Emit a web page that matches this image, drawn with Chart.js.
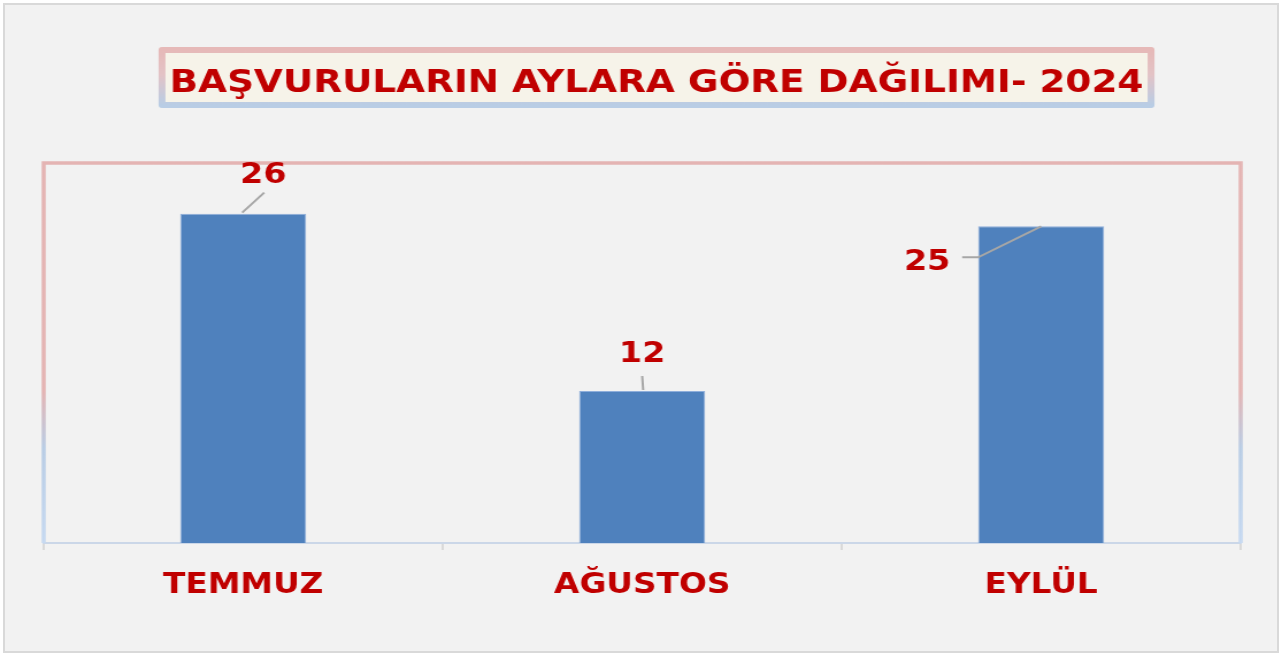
<!DOCTYPE html>
<html>
<head>
<meta charset="utf-8">
<script src="https://cdn.jsdelivr.net/npm/chart.js@4"></script>
<style>
    html, body { margin: 0; padding: 0; background: #fff; width: 1282px; height: 655px; overflow: hidden; }
    #cerceve { position: absolute; left: 3px; top: 3px; width: 1272px; height: 646px; border: 2px solid #d9d9d9; background: #f2f2f2; }
    /* Referans resim yatayda gerilmiş, aynısını yapıyoruz */
    #grafik { position: absolute; left: 0; top: 0; width: 1115px; height: 655px; transform: scaleX(1.1498); transform-origin: 0 0; }
</style>
</head>
<body>
<div id="cerceve"></div>
<canvas id="grafik" width="1115" height="655"></canvas>
<script>
const baslik = "BAŞVURULARIN AYLARA GÖRE DAĞILIMI- 2024";
const aylar = ["TEMMUZ", "AĞUSTOS", "EYLÜL"];
const basvurular = [26, 12, 25];
const eksenMin = 0;
const eksenMax = 30;

const S = 1282 / 1115; // yatay gerilme oranı
const kirmizi = "#c00000";
const yazi = "'DejaVu Sans', Verdana, sans-serif";

// Etiket yerleşimi (sütun tepesine göre, sayfa pikseli)
const etiketStil = [
    { dx: 20, taban: -31, cizgi: [[-1, -1], [21, -21]] },
    { dx: 0, taban: -29, cizgi: [[1, -1], [0, -15]] },
    { dx: -114, taban: 44, cizgi: [[0, 0], [-63, 31], [-79, 31]] },
];

// Başlık kutusu
const baslikEklentisi = {
    id: "baslikKutusu",
    beforeDraw(chart) {
        const ctx = chart.ctx;
        const x1 = 162 / S, x2 = 1151 / S, y1 = 50, y2 = 105;
        ctx.save();
        const g = ctx.createLinearGradient(0, y1, 0, y2);
        g.addColorStop(0, "#e6b9b8");
        g.addColorStop(0.45, "#e3c3c6");
        g.addColorStop(1, "#b9cde5");
        ctx.fillStyle = "#f6f3e9";
        ctx.fillRect(x1, y1, x2 - x1, y2 - y1);
        ctx.strokeStyle = g;
        ctx.lineWidth = 6;
        ctx.lineJoin = "round";
        ctx.strokeRect(x1, y1, x2 - x1, y2 - y1);
        ctx.fillStyle = kirmizi;
        ctx.font = `bold 32.5px ${yazi}`;
        ctx.textAlign = "center";
        ctx.textBaseline = "alphabetic";
        ctx.fillText(baslik, (x1 + x2) / 2, 92);
        ctx.restore();
    },
};

// Çizim alanı çerçevesi
const cerceveEklentisi = {
    id: "alanCercevesi",
    beforeDatasetsDraw(chart) {
        const { ctx, chartArea: a } = chart;
        ctx.save();
        const g = ctx.createLinearGradient(0, a.top, 0, a.bottom);
        g.addColorStop(0, "#e4b4b3");
        g.addColorStop(0.6, "#e4b4b3");
        g.addColorStop(0.75, "#b9cde5");
        g.addColorStop(1, "#c6d9f1");
        ctx.strokeStyle = g;
        ctx.lineWidth = 3.5;
        ctx.beginPath();
        ctx.moveTo(a.left, a.bottom);
        ctx.lineTo(a.left, a.top);
        ctx.lineTo(a.right, a.top);
        ctx.lineTo(a.right, a.bottom);
        ctx.stroke();
        ctx.restore();
    },
};

// Veri etiketleri ve kılavuz çizgileri
const etiketEklentisi = {
    id: "veriEtiketleri",
    afterDatasetsDraw(chart) {
        const ctx = chart.ctx;
        const bars = chart.getDatasetMeta(0).data;
        ctx.save();
        bars.forEach((bar, i) => {
            const st = etiketStil[i];
            ctx.strokeStyle = "#a6a6a6";
            ctx.lineWidth = 2;
            ctx.beginPath();
            st.cizgi.forEach(([px, py], k) => {
                const x = bar.x + px / S, y = bar.y + py;
                if (k === 0) ctx.moveTo(x, y); else ctx.lineTo(x, y);
            });
            ctx.stroke();
            ctx.fillStyle = kirmizi;
            ctx.font = `bold 29px ${yazi}`;
            ctx.textAlign = "center";
            ctx.textBaseline = "alphabetic";
            ctx.fillText(String(basvurular[i]), bar.x + st.dx / S, bar.y + st.taban);
        });
        ctx.restore();
    },
};

new Chart(document.getElementById("grafik").getContext("2d"), {
    type: "bar",
    data: {
        labels: aylar,
        datasets: [
            {
                data: basvurular,
                backgroundColor: "#4f81bd",
                borderColor: "#8eaedb",
                borderWidth: 1,
                categoryPercentage: 1,
                barPercentage: 0.316,
            },
        ],
    },
    options: {
        responsive: false,
        animation: false,
        layout: { padding: { left: 38, right: 36, top: 163, bottom: 0 } },
        plugins: { legend: { display: false }, tooltip: { enabled: false } },
        scales: {
            y: { display: false, min: eksenMin, max: eksenMax },
            x: {
                afterFit(scale) { scale.height = 112; },
                border: { color: "#cbd7e8", width: 2 },
                grid: { display: true, drawOnChartArea: false, drawTicks: true, tickLength: 7, color: "#d9d9d9", lineWidth: 2, offset: true },
                ticks: { color: kirmizi, font: { family: yazi, size: 28.5, weight: "bold" }, padding: 18 },
            },
        },
    },
    plugins: [baslikEklentisi, cerceveEklentisi, etiketEklentisi],
});
</script>
</body>
</html>
